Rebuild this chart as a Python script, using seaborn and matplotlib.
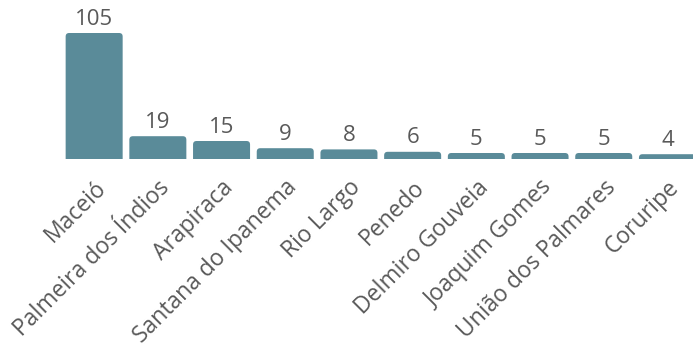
import matplotlib
matplotlib.use("Agg")
import matplotlib.pyplot as plt
from matplotlib.patches import FancyBboxPatch
import seaborn as sns
import pandas as pd

cities = ["Maceió", "Palmeira dos Índios", "Arapiraca", "Santana do Ipanema", "Rio Largo",
          "Penedo", "Delmiro Gouveia", "Joaquim Gomes", "União dos Palmares", "Coruripe"]
counts = [105, 19, 15, 9, 8, 6, 5, 5, 5, 4]

bar_color = "#5a8b99"
text_color = "#595959"

sns.set_theme(style="white")
plt.rcParams["font.family"] = ["Open Sans", "DejaVu Sans"]

df = pd.DataFrame({"city": cities, "count": counts})

W, H = 693, 353
fig = plt.figure(figsize=(W / 100, H / 100), dpi=100)
base_y = 159
top_y = 10
ax = fig.add_axes([62.3 / W, (H - base_y) / H, 637 / W, (base_y - top_y) / H])

sns.barplot(data=df, x="city", y="count", color=bar_color, width=0.895, saturation=1, ax=ax)

ax.set_xlim(-0.5, 9.5)
ymax = 105 * (base_y - top_y) / (base_y - 33)
ax.set_ylim(0, ymax)

# round the top corners of the bars (bottom is hidden below the baseline)
px_x = 637 / 10.0
px_y = (base_y - top_y) / ymax
r = 3.5
for p in list(ax.patches):
    x, w, h = p.get_x(), p.get_width(), p.get_height()
    fb = FancyBboxPatch((x, -10), w, h + 10,
                        boxstyle=f"round,pad=0,rounding_size={r / px_x}",
                        mutation_aspect=px_x / px_y,
                        facecolor=bar_color, edgecolor="none")
    ax.add_patch(fb)
    p.set_visible(False)

for i, v in enumerate(counts):
    ax.annotate(str(v), (i, v), xytext=(0, 2.5), textcoords="offset points",
                ha="center", va="bottom", fontsize=16, color=text_color, clip_on=False)

ax.set_xticks(range(len(cities)))
ax.set_xticklabels(cities, rotation=45, ha="right", rotation_mode="anchor",
                   fontsize=16.5, color=text_color)
ax.tick_params(axis="x", length=0, pad=12)
ax.set_yticks([])
ax.set_xlabel("")
ax.set_ylabel("")
sns.despine(ax=ax, left=True, bottom=True)

fig.savefig("out.png", dpi=100)
